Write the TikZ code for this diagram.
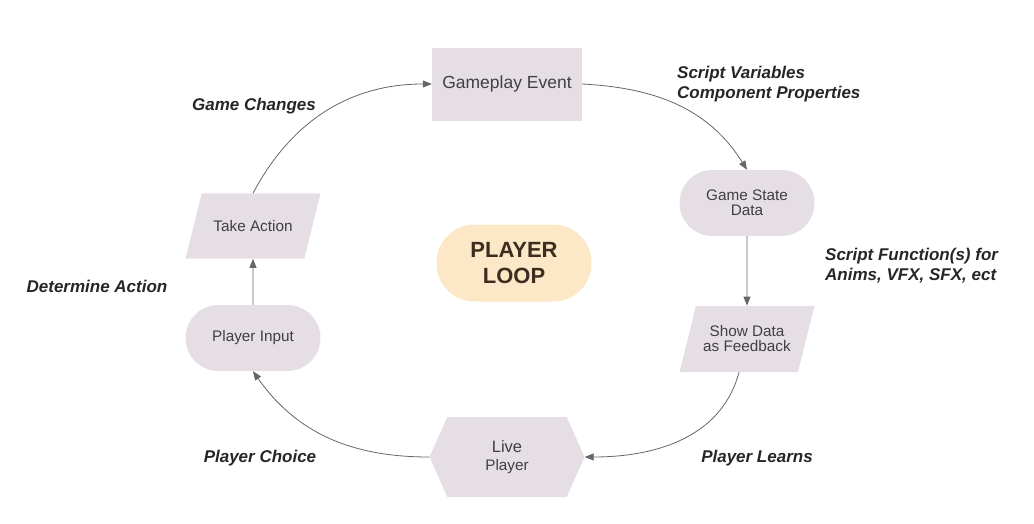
\documentclass[tikz,border=0pt]{standalone}
\usepackage{fontspec}
\setmainfont{Liberation Sans}
\usepackage{tikz}
\usetikzlibrary{arrows.meta,positioning,shapes.geometric,shapes.symbols}
\usepackage{xcolor}

\definecolor{boxfill}{RGB}{229,222,229}
\definecolor{loopfill}{RGB}{252,232,198}
\definecolor{loopink}{RGB}{62,44,32}
\definecolor{ink}{RGB}{64,64,64}

\begin{document}
\begin{tikzpicture}[
  x=1pt, y=-1pt,
  box/.style={fill=boxfill,text=ink,font=\fontsize{15.3}{16}\selectfont,align=center,inner sep=0pt},
  rectbox/.style={box,rectangle,minimum width=150pt,minimum height=73pt},
  pill/.style={box,rectangle,rounded corners=33pt,minimum width=135pt,minimum height=66pt},
  slant/.style={box,trapezium,trapezium left angle=76,trapezium right angle=104,
                trapezium stretches body,minimum width=135pt},
  hexa/.style={box,signal,signal to=east and west,signal pointer angle=132,
               minimum width=155pt,minimum height=80pt},
  note/.style={font=\fontsize{17}{20}\selectfont\bfseries\itshape,text=black!85,inner sep=0pt},
  arr/.style={-{Triangle[length=9pt,width=7pt]},draw=black!60,line width=0.8pt}
]
\useasboundingbox (0,0) rectangle (1034,523);

% Main loop
\node[rectbox] (event) at (507,84) {\fontsize{17.5}{18}\selectfont Gameplay Event};
\node[pill] (state) at (747,203) {Game State\\[-1pt]Data};
\node[slant,inner ysep=20pt] (show) at (747,339) {Show Data\\[-1pt]as Feedback};
\node[slant,inner ysep=27pt] (action) at (253,226) {Take Action};
\node[hexa] (live) at (507,457) {\fontsize{16.5}{19}\selectfont Live\\[2pt]Player};
\node[pill] (input) at (253,338) {Player Input};

% Centre
\node[box,fill=loopfill,text=loopink,rectangle,rounded corners=38pt,minimum width=155pt,
      minimum height=77pt,font=\fontsize{22}{26}\selectfont\bfseries] (loop) at (514,263) {PLAYER\\LOOP};

% Labels
\node[note] (changes) at (254,106) {Game Changes};
\node[note,align=left,anchor=west] (vars) at (677,84) {Script Variables\\Component Properties};
\node[note,align=left,anchor=west] (funcs) at (825,266) {Script Function(s) for\\Anims, VFX, SFX, ect};
\node[note] (determine) at (97,286) {Determine Action};
\node[note] (choice) at (260,458) {Player Choice};
\node[note] (learns) at (757,458) {Player Learns};

% Arrows
\draw[arr] (event.east) to[out=-3,in=122] (state.north);
\draw[arr] (state.south) -- (show.north);
\draw[arr] ([xshift=-8pt]show.south) to[out=-105,in=0] (live.east);
\draw[arr] (live.west) to[out=180,in=-55] (input.south);
\draw[arr] (input.north) -- (action.south);
\draw[arr] (action.north) to[out=62,in=180] (event.west);

\end{tikzpicture}
\end{document}
